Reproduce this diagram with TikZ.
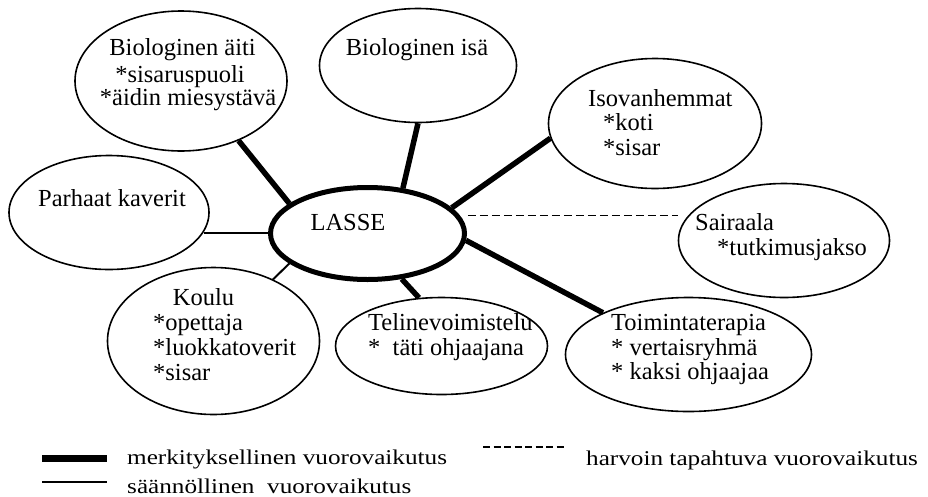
\documentclass[tikz,border=0pt]{standalone}
\usepackage{fontspec}
\usepackage{graphicx}
\setmainfont{Liberation Serif}
\usetikzlibrary{shapes.geometric,backgrounds}
\newcommand{\mainsz}{\fontsize{24.5}{25}\selectfont}
\newcommand{\legsz}{\fontsize{21}{21}\selectfont}
\newcommand{\legtxt}[1]{\scalebox{1.2}[1]{\legsz #1}}
\tikzset{
  bubble/.style={draw, ellipse, line width=1.6pt, inner sep=0pt, fill=white},
  centre/.style={draw, ellipse, line width=5pt, inner sep=0pt, fill=white},
  txt/.style={anchor=base west, inner sep=0pt, font=\mainsz},
  ctxt/.style={anchor=base, inner sep=0pt, font=\mainsz},
  legtext/.style={anchor=base west, inner sep=0pt},
  strong/.style={line width=5.5pt},
  regular/.style={line width=2pt},
  rare/.style={line width=1.6pt, dash pattern=on 8pt off 4pt},
}
\begin{document}
\begin{tikzpicture}[x={(1pt,0)}, y={(0,-1pt)}]
\useasboundingbox (0,0) rectangle (928,496);
% ellipses
\node[bubble, minimum width=212pt, minimum height=140pt] (aiti) at (181,81) {};
\node[bubble, minimum width=197pt, minimum height=114pt] (isa) at (418,65.5) {};
\node[bubble, minimum width=213pt, minimum height=130pt] (iso) at (655,123.5) {};
\node[bubble, minimum width=211pt, minimum height=114pt] (sairaala) at (784,240.5) {};
\node[bubble, minimum width=200pt, minimum height=114pt] (parhaat) at (109,212.5) {};
\node[centre, minimum width=194pt, minimum height=92pt] (lasse) at (367.5,233.5) {};
\node[bubble, minimum width=212pt, minimum height=147pt] (koulu) at (213.5,341) {};
\node[bubble, minimum width=212pt, minimum height=97pt] (teline) at (441.5,346) {};
\node[bubble, minimum width=246pt, minimum height=114pt] (toiminta) at (688.5,354.5) {};
% connectors
\begin{pgfonlayer}{background}
\fill[white] (0,0) rectangle (928,496);
\draw[strong] (aiti.-46) -- (lasse.159);
\draw[strong] (isa.-90) -- (lasse.52);
\draw[strong] (iso.-172) -- (lasse.17);
\draw[rare, shorten <=8pt] (lasse.11) -- (lasse.11 -| sairaala.west);
\draw[regular] (parhaat.-12) -- (parhaat.-12 -| lasse.west);
\draw[regular] (koulu.46) -- (lasse.201);
\draw[strong] (lasse.-53) -- (teline.115);
\draw[strong] (lasse.-4) -- (toiminta.154);
\end{pgfonlayer}
% texts
\node[ctxt] (t1a) at (182.5,55) {Biologinen äiti};
\node[ctxt] (t1b) at (180,82) {*sisaruspuoli};
\node[ctxt] (t1c) at (188,105) {*äidin miesystävä};
\node[ctxt] (t2) at (417,55) {Biologinen isä};
\node[txt] (t3a) at (588,106) {Isovanhemmat};
\node[txt] (t3b) at (603,130) {*koti};
\node[txt] (t3c) at (603,155) {*sisar};
\node[txt] (t4a) at (695,230) {Sairaala};
\node[txt] (t4b) at (717,255) {*tutkimusjakso};
\node[ctxt] (t5) at (112,206) {Parhaat kaverit};
\node[ctxt] (t6) at (348,230) {LASSE};
\node[ctxt] (t7a) at (203.5,305) {Koulu};
\node[txt] (t7b) at (153,330) {*opettaja};
\node[txt] (t7c) at (153,355) {*luokkatoverit};
\node[txt] (t7d) at (153,380) {*sisar};
\node[txt] (t8a) at (368,330) {Telinevoimistelu};
\node[txt] (t8b) at (368,355) {*~~täti ohjaajana};
\node[txt] (t9a) at (611,330) {Toimintaterapia};
\node[txt] (t9b) at (611,355) {* vertaisryhmä};
\node[txt] (t9c) at (611,379) {* kaksi ohjaajaa};
% legend
\coordinate (l1a) at (42,458.5);
\coordinate (l1b) at (107,458.5);
\coordinate (l2a) at (42,482);
\coordinate (l2b) at (107,482);
\coordinate (l3a) at (483,447);
\coordinate (l3b) at (566,447);
\draw[line width=6.5pt] (l1a) -- (l1b);
\draw[line width=1.8pt] (l2a) -- (l2b);
\draw[line width=2pt, dash pattern=on 7pt off 3.5pt] (l3a) -- (l3b);
\node[legtext] (g1) at (127,464) {\legtxt{merkityksellinen vuorovaikutus}};
\node[legtext] (g2) at (127,493) {\legtxt{säännöllinen~ vuorovaikutus}};
\node[legtext] (g3) at (586,465) {\legtxt{harvoin tapahtuva vuorovaikutus}};
\end{tikzpicture}
\end{document}
